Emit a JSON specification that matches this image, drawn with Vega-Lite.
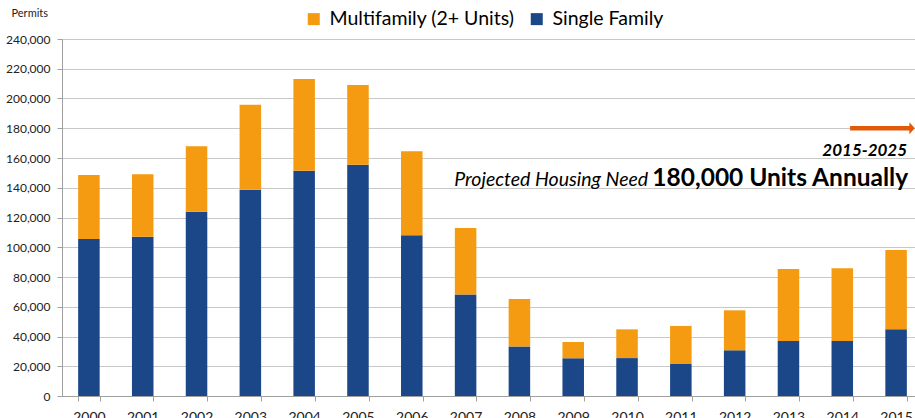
{
  "$schema": "https://vega.github.io/schema/vega-lite/v6.json",
  "width": 853,
  "height": 357,
  "autosize": "none",
  "padding": {"left": 62, "top": 39, "right": 0, "bottom": 22},
  "background": "white",
  "config": {"view": {"stroke": null}, "font": "Lato"},
  "encoding": {
    "x": {
      "field": "year",
      "type": "ordinal",
      "scale": {"range": [0, 861], "paddingInner": 0.6, "paddingOuter": 0.3},
      "axis": {
        "title": null,
        "labelAngle": 0,
        "labelFont": "Lato",
        "labelFontSize": 14,
        "labelColor": "#222222",
        "tickBand": "extent",
        "tickSize": 5,
        "tickColor": "#a0a0a0",
        "domainColor": "#a0a0a0",
        "labelPadding": 9,
        "grid": false
      }
    },
    "y": {
      "field": "value",
      "type": "quantitative",
      "scale": {"domain": [0, 240000], "nice": false},
      "axis": {
        "title": "Permits",
        "titleAngle": 0,
        "titleX": -51,
        "titleY": -23,
        "titleAlign": "left",
        "titleBaseline": "alphabetic",
        "titleFont": "Lato",
        "titleFontSize": 11,
        "titleFontWeight": "normal",
        "titleColor": "#222222",
        "values": [0, 20000, 40000, 60000, 80000, 100000, 120000, 140000, 160000, 180000, 200000, 220000, 240000],
        "format": ",d",
        "labelOverlap": false,
        "labelFont": "Lato",
        "labelFontSize": 12,
        "labelColor": "#222222",
        "tickSize": 5,
        "labelPadding": 7,
        "tickColor": "#a0a0a0",
        "domainColor": "#a0a0a0",
        "gridColor": "#c8c8c8"
      }
    }
  },
  "layer": [
    {
      "data": {
        "values": [
          {"year": "2000", "type": "Single Family", "value": 105500},
          {"year": "2000", "type": "Multifamily (2+ Units)", "value": 43100},
          {"year": "2001", "type": "Single Family", "value": 107100},
          {"year": "2001", "type": "Multifamily (2+ Units)", "value": 41900},
          {"year": "2002", "type": "Single Family", "value": 123900},
          {"year": "2002", "type": "Multifamily (2+ Units)", "value": 44000},
          {"year": "2003", "type": "Single Family", "value": 138700},
          {"year": "2003", "type": "Multifamily (2+ Units)", "value": 57100},
          {"year": "2004", "type": "Single Family", "value": 151500},
          {"year": "2004", "type": "Multifamily (2+ Units)", "value": 61600},
          {"year": "2005", "type": "Single Family", "value": 155500},
          {"year": "2005", "type": "Multifamily (2+ Units)", "value": 53600},
          {"year": "2006", "type": "Single Family", "value": 108000},
          {"year": "2006", "type": "Multifamily (2+ Units)", "value": 56500},
          {"year": "2007", "type": "Single Family", "value": 68300},
          {"year": "2007", "type": "Multifamily (2+ Units)", "value": 44600},
          {"year": "2008", "type": "Single Family", "value": 33200},
          {"year": "2008", "type": "Multifamily (2+ Units)", "value": 32000},
          {"year": "2009", "type": "Single Family", "value": 25300},
          {"year": "2009", "type": "Multifamily (2+ Units)", "value": 11000},
          {"year": "2010", "type": "Single Family", "value": 25500},
          {"year": "2010", "type": "Multifamily (2+ Units)", "value": 19300},
          {"year": "2011", "type": "Single Family", "value": 21500},
          {"year": "2011", "type": "Multifamily (2+ Units)", "value": 25600},
          {"year": "2012", "type": "Single Family", "value": 30700},
          {"year": "2012", "type": "Multifamily (2+ Units)", "value": 26900},
          {"year": "2013", "type": "Single Family", "value": 37000},
          {"year": "2013", "type": "Multifamily (2+ Units)", "value": 48400},
          {"year": "2014", "type": "Single Family", "value": 37000},
          {"year": "2014", "type": "Multifamily (2+ Units)", "value": 48800},
          {"year": "2015", "type": "Single Family", "value": 44800},
          {"year": "2015", "type": "Multifamily (2+ Units)", "value": 53400}
        ]
      },
      "mark": {"type": "bar"},
      "encoding": {
        "color": {
          "field": "type",
          "type": "nominal",
          "scale": {"domain": ["Multifamily (2+ Units)", "Single Family"], "range": ["#F49B12", "#1B4789"]},
          "legend": {
            "title": null,
            "orient": "none",
            "legendX": 242,
            "legendY": -30,
            "direction": "horizontal",
            "symbolType": "square",
            "symbolSize": 144,
            "symbolStrokeWidth": 0,
            "labelFont": "Lato",
            "labelFontSize": 19.5,
            "labelLimit": 400,
            "labelColor": "#000000",
            "columnPadding": 12,
            "labelOffset": 6,
            "padding": 0
          }
        },
        "order": {"field": "type", "sort": "descending"}
      }
    },
    {
      "data": {"values": [{"year": "2015", "value": 180000}]},
      "mark": {"type": "rule", "color": "#E05A0A", "strokeWidth": 4.5, "xOffset": -46, "x2Offset": 14},
      "encoding": {
        "x2": {"field": "year"}
      }
    },
    {
      "data": {"values": [{"year": "2015", "value": 180000}]},
      "mark": {"type": "point", "shape": "M-0.45,-1L0.45,0L-0.45,1Z", "filled": true, "color": "#E05A0A", "opacity": 1, "size": 144, "xOffset": 16},
      "encoding": {}
    },
    {
      "data": {"values": [{"year": "2015", "value": 161500, "label": "2015-2025"}]},
      "mark": {"type": "text", "align": "right", "baseline": "alphabetic", "dx": 11, "font": "Lato", "fontSize": 17, "fontStyle": "italic", "fontWeight": "bold", "color": "#000000"},
      "encoding": {
        "text": {"field": "label"}
      }
    },
    {
      "data": {"values": [{"year": "2015", "value": 141500, "label": "180,000 Units Annually"}]},
      "mark": {"type": "text", "align": "right", "baseline": "alphabetic", "dx": 12, "font": "Lato", "fontSize": 24.5, "fontWeight": "bold", "color": "#000000"},
      "encoding": {
        "text": {"field": "label"}
      }
    },
    {
      "data": {"values": [{"year": "2015", "value": 141500, "label": "Projected Housing Need"}]},
      "mark": {"type": "text", "align": "right", "baseline": "alphabetic", "dx": -248, "font": "Lato", "fontSize": 19.5, "fontStyle": "italic", "color": "#000000"},
      "encoding": {
        "text": {"field": "label"}
      }
    }
  ]
}
